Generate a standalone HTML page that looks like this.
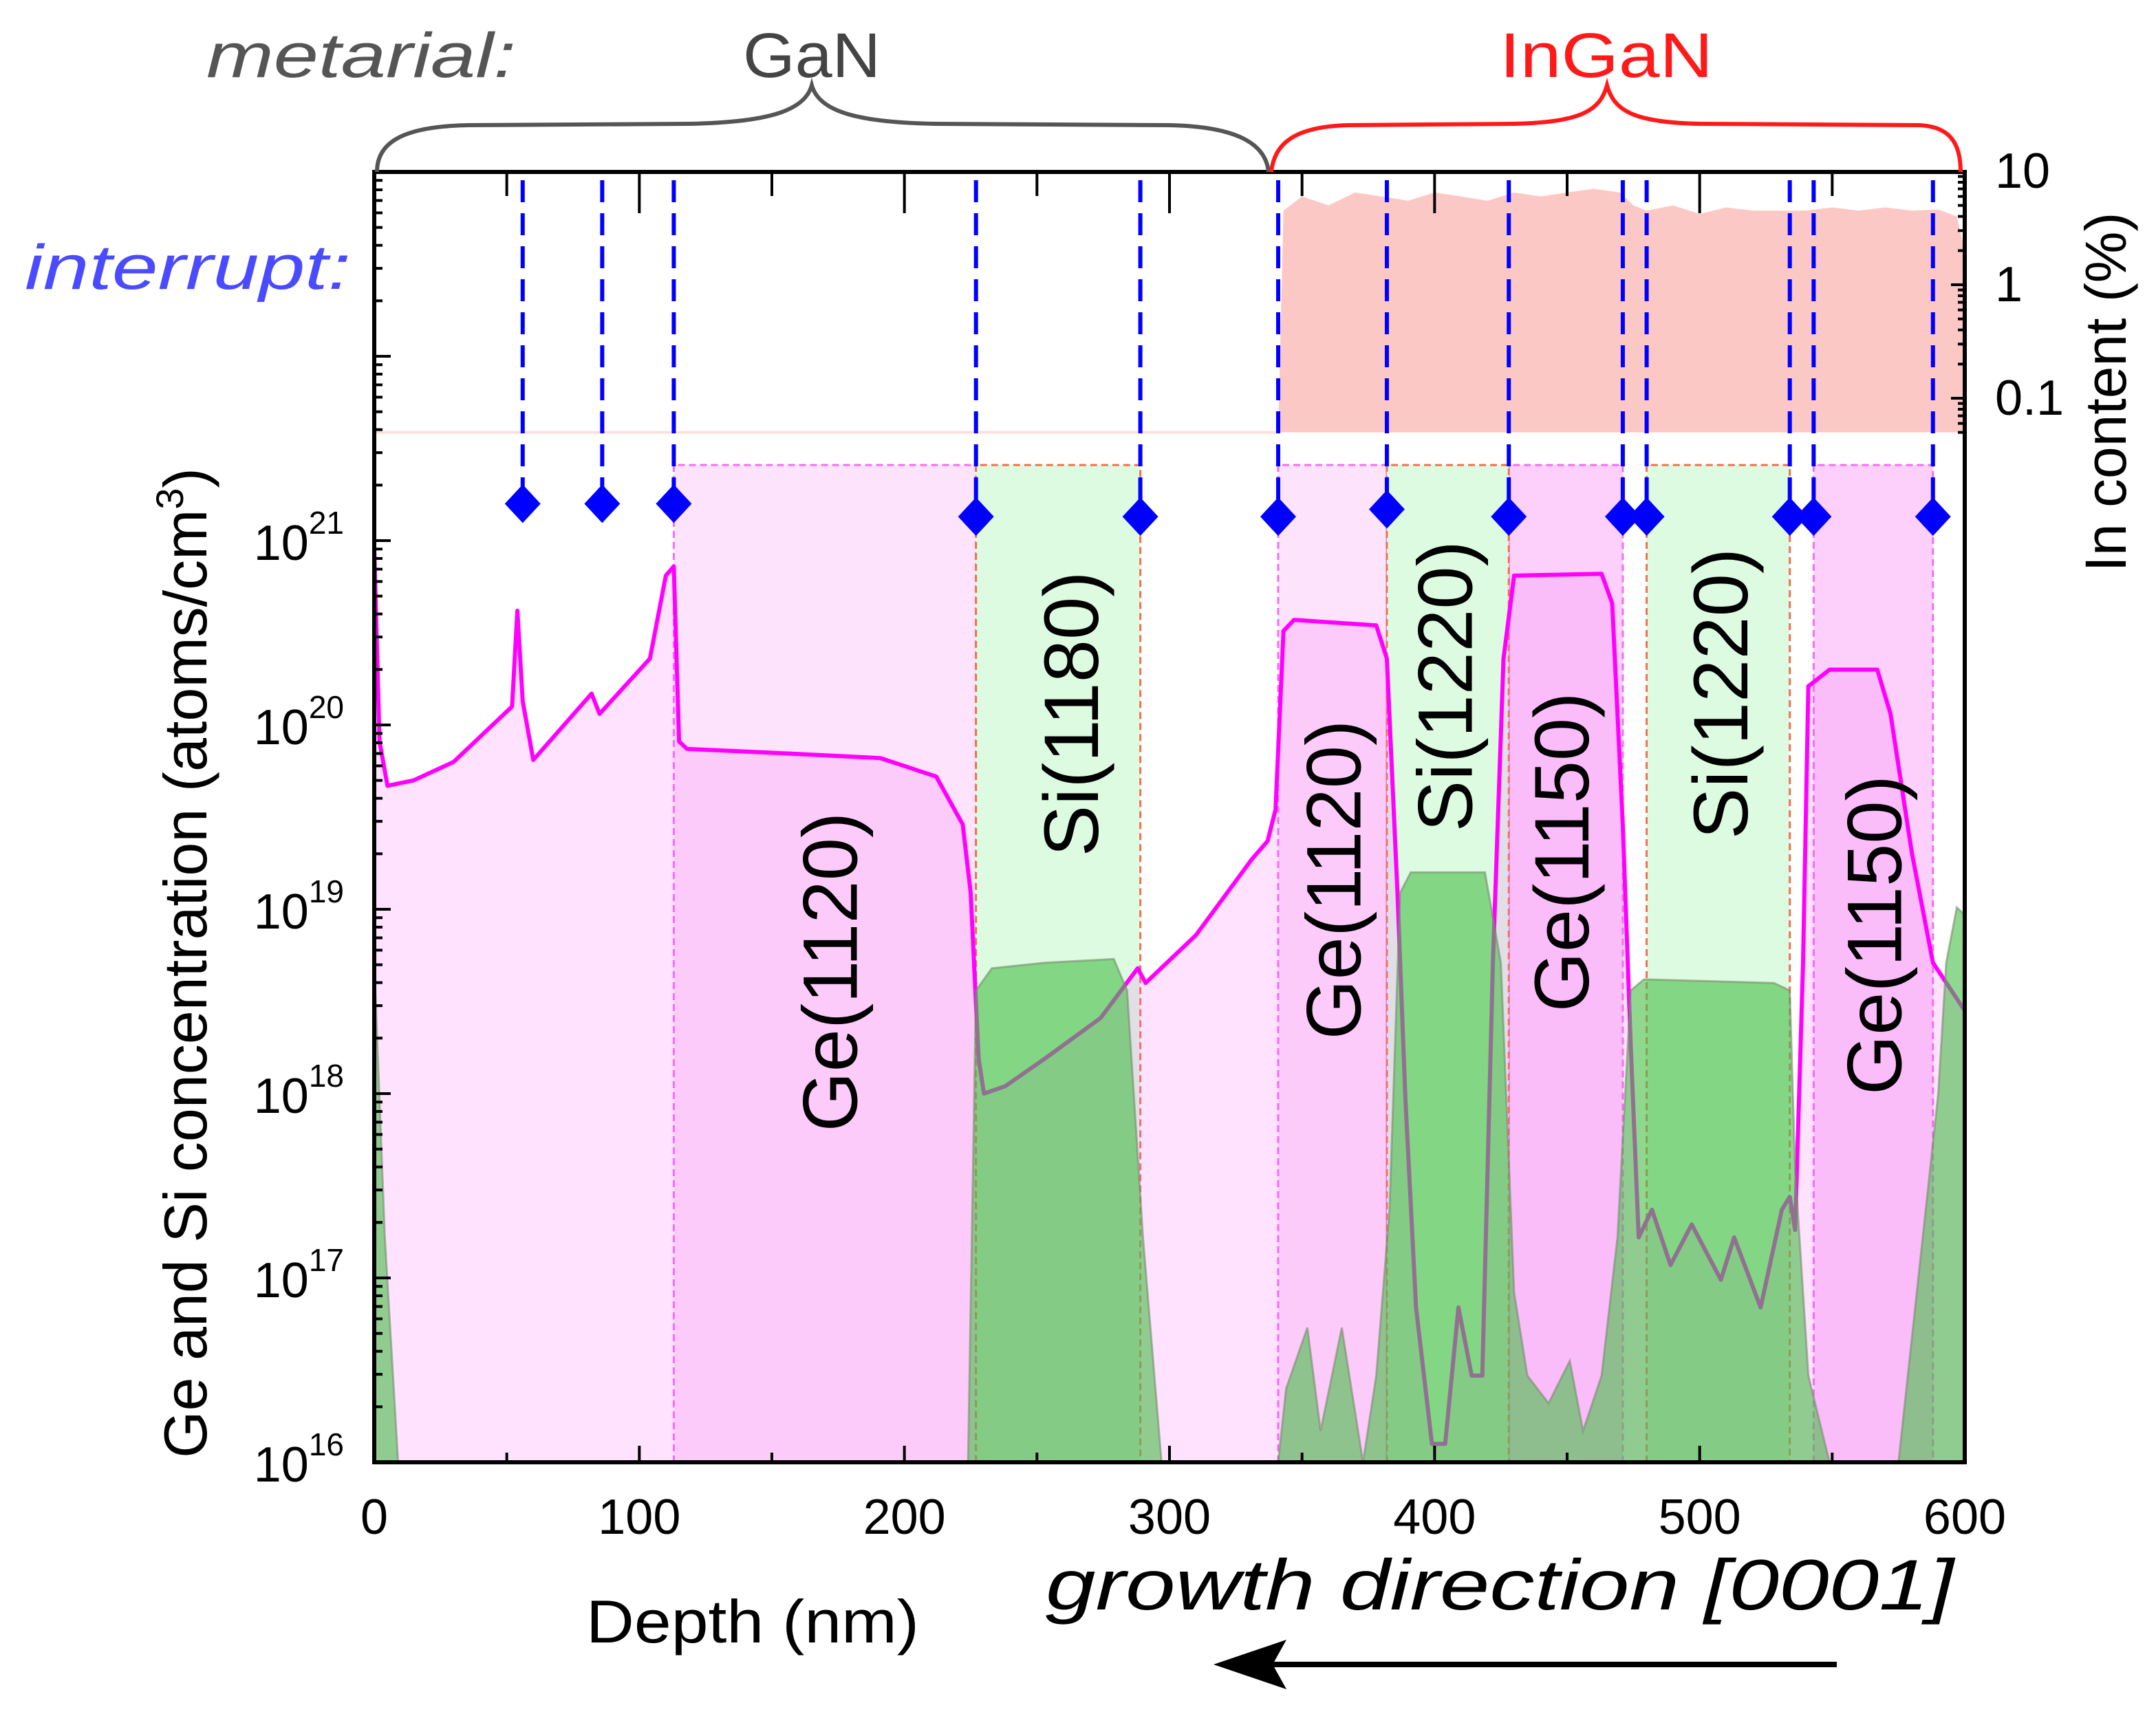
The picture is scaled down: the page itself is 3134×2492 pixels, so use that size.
<!DOCTYPE html>
<html><head><meta charset="utf-8"><style>
html,body{margin:0;padding:0;background:#fff;}
svg{display:block;}
text{font-family:"Liberation Sans","DejaVu Sans",sans-serif;}
</style></head><body>
<svg id="chart" width="3134" height="2492" viewBox="0 0 1567 1246" xmlns="http://www.w3.org/2000/svg">
<g id="layer-bg"></g>
<g id="layer-in"></g>
<g id="layer-ge"></g>
<g id="layer-si"></g>
<g id="layer-int"></g>
<g id="layer-axes"></g>
<g id="layer-text">
  <text x="150" y="56" font-size="46" font-style="italic" fill="#555" textLength="225" lengthAdjust="spacingAndGlyphs" font-family="DejaVu Sans, sans-serif">metarial:</text>
  <text x="540" y="56" font-size="46" fill="#444" textLength="100" lengthAdjust="spacingAndGlyphs" font-family="DejaVu Sans, sans-serif">GaN</text>
  <text x="1090" y="56" font-size="46" fill="#ff1a1a" textLength="155" lengthAdjust="spacingAndGlyphs" font-family="DejaVu Sans, sans-serif">InGaN</text>
  <text x="18" y="210" font-size="46" font-style="italic" fill="#4a4aff" textLength="237" lengthAdjust="spacingAndGlyphs" font-family="DejaVu Sans, sans-serif">interrupt:</text>
  <path d="M274,125 C274,105 290,92 340,91 L500,90 C560,89 585,80 590,62 C595,80 620,89 680,90 L850,91 C900,92 920,105 922,125" fill="none" stroke="#555" stroke-width="3"/>
  <path d="M924,125 C926,105 940,92 980,91 L1100,90 C1150,89 1163,80 1168,62 C1173,80 1186,89 1236,90 L1395,91 C1418,92 1425,105 1425,125" fill="none" stroke="#ff1a1a" stroke-width="3"/>
  <text transform="translate(150,700) rotate(-90)" font-size="44" text-anchor="middle">Ge and Si concentration (atoms/cm<tspan font-size="28" dy="-17">3</tspan><tspan dy="17">)</tspan></text>
  <text transform="translate(1545,285) rotate(-90)" font-size="42" text-anchor="middle">In content (%)</text>
  <text x="426" y="1194" font-size="44" textLength="242" lengthAdjust="spacingAndGlyphs">Depth (nm)</text>
  <text x="760" y="1170" font-size="52" font-style="italic" textLength="660" lengthAdjust="spacingAndGlyphs" font-family="DejaVu Sans Mono, Liberation Mono, monospace">growth direction [0001]</text>
  <line x1="1335" y1="1210" x2="905" y2="1210" stroke="#000" stroke-width="4"/>
  <path d="M882,1210 L935,1192 L925,1210 L935,1228 Z" fill="#000"/>
</g>
</svg>
<script>
const NS="http://www.w3.org/2000/svg";
// ---- data ----
const xTicks=[0,100,200,300,400,500,600];
const yTickExp=[16,17,18,19,20,21];
const inTicks=[0.1,1,10];
const interruptDepths=[56,86,113,227,289,341,382,428,471,480,534,543,588];
const interruptMarkExp=[21.2,21.2,21.2,21.13,21.13,21.13,21.17,21.13,21.13,21.13,21.13,21.13,21.13];
const geBoxes=[[113,227],[341,382],[428,471],[543,588]];
const siBoxes=[[227,289],[382,428],[480,534]];
const boxTopExp=21.41;
const regionLabels=["Ge(1120)","Si(1180)","Ge(1120)","Si(1220)","Ge(1150)","Si(1220)","Ge(1150)"];
const regionLabelDepth=[182,273,372,414,458,518,576];
const regionLabelExp=[18.66,20.06,19.16,20.21,19.31,20.17,18.86];
const geDepth=[0,2,5,15,30,52,54,56,60,82,85,104,110,113,115,118,149,191,212,222,225,228,230,238,253,274,288,291,310,331,337,340,343,347,378,382,386,389,393,399,404,409,414,418,422,426,430,463,467,471,474,477,482,489,497,508,513,523,531,534,536,539,541,549,567,572,580,588,600];
const geExp=[20.96,19.91,19.67,19.70,19.80,20.10,20.62,20.13,19.81,20.17,20.06,20.36,20.81,20.86,19.91,19.87,19.85,19.82,19.72,19.46,19.09,18.19,18.00,18.04,18.19,18.41,18.68,18.60,18.86,19.27,19.37,19.54,20.51,20.57,20.54,20.36,19.09,17.97,16.84,16.10,16.10,16.84,16.47,16.47,18.71,20.36,20.81,20.82,20.66,19.46,18.26,17.22,17.37,17.07,17.29,16.99,17.22,16.84,17.37,17.44,17.26,18.71,20.21,20.30,20.30,20.06,19.31,18.71,18.45];
const siDepth=[0,4,9,224,227,233,253,279,284,290,297,341,344,352,357,365,373,378,383,387,391,419,425,430,435,443,451,456,463,469,474,479,528,534,536,541,549,575,590,593,597,600];
const siExp=[18.71,17.22,16,16,18.56,18.68,18.71,18.73,18.56,17.22,16,16,16.4,16.73,16.17,16.73,16,16.47,17.37,19.09,19.20,19.20,18.71,16.92,16.47,16.32,16.55,16.17,16.47,17.22,18.56,18.62,18.60,18.56,17.59,16.47,16,16,18.0,18.71,19.01,18.97];
const inDepth=[341,343,350,360,370,380,390,400,410,420,430,440,450,460,470,475,480,490,500,510,520,530,540,550,560,570,580,590,597,600];
const inPct=[0.05,4.5,6,5,6.5,6,5.5,6.5,6,5.5,6.5,6,6.5,7,6.5,5,4.5,5,4.2,4.8,4.5,4.5,4.5,4.8,4.5,4.8,4.5,4.6,4,2];
// ---- scales ----
const X0=272,X1=1428,YT=125,YB=1063;
const sx=d=>X0+d*(X1-X0)/600;
const sy=e=>YB-(e-16)*(YB-YT)/7;
const sIn=p=>207-Math.log10(p)*82.5;
function mk(tag,attrs,parent){const el=document.createElementNS(NS,tag);for(const k in attrs)el.setAttribute(k,attrs[k]);parent.appendChild(el);return el;}
const bg=document.getElementById('layer-bg'),li=document.getElementById('layer-in'),lg=document.getElementById('layer-ge'),ls=document.getElementById('layer-si'),lint=document.getElementById('layer-int'),la=document.getElementById('layer-axes'),lt=document.getElementById('layer-text');
geBoxes.forEach((b,i)=>{
 const r=mk('rect',{x:sx(b[0]),y:sy(boxTopExp),width:sx(b[1])-sx(b[0]),height:YB-sy(boxTopExp),fill:(i>=2?'#fcd0fb':'#fde3fb')},bg);
 
 
 const p=mk('path',{d:`M${sx(b[0])},${YB} V${sy(boxTopExp)} H${sx(b[1])} V${YB}`,fill:'none',stroke:'#f070f0','stroke-width':1.5,'stroke-dasharray':'5,3'},bg);
 
 
});
siBoxes.forEach(b=>{
 const r=mk('rect',{x:sx(b[0]),y:sy(boxTopExp),width:sx(b[1])-sx(b[0]),height:YB-sy(boxTopExp),fill:'#dcfbe0'},bg);
 
 
 const p=mk('path',{d:`M${sx(b[0])},${YB} V${sy(boxTopExp)} H${sx(b[1])} V${YB}`,fill:'none',stroke:'#f07050','stroke-width':1.5,'stroke-dasharray':'5,3'},bg);
 
 
});
let dIn=`M${sx(inDepth[0])},${sIn(0.05)}`;
inDepth.forEach((d,i)=>{dIn+=` L${sx(d)},${sIn(Math.max(inPct[i],0.05))}`;});
dIn+=` L${sx(600)},${sIn(0.05)} Z`;
const inArea=mk('path',{d:dIn,fill:'#fcc8c6'},li);


const inBase=mk('line',{x1:X0,x2:sx(341),y1:sIn(0.05),y2:sIn(0.05),stroke:'#fde0de','stroke-width':2},li);


let gl='';geDepth.forEach((d,i)=>{gl+=(i?' L':'M')+sx(d)+','+sy(geExp[i]);});
const geFill=mk('path',{d:gl+` L${sx(600)},${YB} L${sx(0)},${YB} Z`,fill:'rgba(248,100,248,0.19)'},lg);


const geLine=mk('path',{d:gl,fill:'none',stroke:'#ff00ff','stroke-width':3,'stroke-linejoin':'round'},lg);


let sl='';siDepth.forEach((d,i)=>{sl+=(i?' L':'M')+sx(d)+','+sy(siExp[i]);});
const siFill=mk('path',{d:sl+` L${sx(600)},${YB} L${sx(0)},${YB} Z`,fill:'rgba(70,190,70,0.6)',stroke:'rgba(120,140,110,0.6)','stroke-width':1.5},ls);


interruptDepths.forEach((d,i)=>{
 const x=sx(d),y=sy(interruptMarkExp[i]);
 const l=mk('line',{x1:x,x2:x,y1:YT+6,y2:y,stroke:'#0000ff','stroke-width':3,'stroke-dasharray':'16,8'},lint);
 
 
 const m=mk('path',{d:`M${x},${y-14} L${x+13},${y} L${x},${y+14} L${x-13},${y} Z`,fill:'#0000ff'},lint);
 
 
});
regionLabels.forEach((t,i)=>{
 const el=mk('text',{transform:`translate(${sx(regionLabelDepth[i])},${sy(regionLabelExp[i])}) rotate(-90)`,'font-size':56,'text-anchor':'middle'},lt);
 el.textContent=t;
 
 
});
const fr=mk('rect',{x:X0,y:YT,width:X1-X0,height:YB-YT,fill:'none',stroke:'#000','stroke-width':3},la);


for(let d=0;d<=600;d+=50){
 const len=d%100===0?12:7;
 mk('line',{x1:sx(d),x2:sx(d),y1:YB,y2:YB-len,stroke:'#000','stroke-width':2},la);
 mk('line',{x1:sx(d),x2:sx(d),y1:YT,y2:YT+len*2.5,stroke:'#000','stroke-width':2},la);
}
xTicks.forEach(v=>{
 const t=mk('text',{x:sx(v),y:YB+52,'font-size':36,'text-anchor':'middle'},la);
 t.textContent=v;
 
 
});
for(let e=16;e<23;e++){for(let k=1;k<10;k++){const y=sy(e+Math.log10(k));mk('line',{x1:X0,x2:X0+(k===1?12:6),y1:y,y2:y,stroke:'#000','stroke-width':2},la);}}
yTickExp.forEach(e=>{
 const t=mk('text',{x:X0-22,y:sy(e)+14,'font-size':36,'text-anchor':'end'},la);
 t.textContent='10';
 const s=mk('tspan',{'font-size':23,dy:-19},t);s.textContent=e;
 
 
});
for(let e=-2;e<2;e++){for(let k=1;k<10;k++){const y=sIn(Math.pow(10,e)*k);if(y<YT||y>sIn(0.05))continue;mk('line',{x1:X1,x2:X1-(k===1?10:5),y1:y,y2:y,stroke:'#000','stroke-width':2},la);}}
inTicks.forEach(v=>{
 const t=mk('text',{x:X1+22,y:sIn(v)+12,'font-size':36},la);
 t.textContent=v;
 
 
});
</script>
</body></html>
